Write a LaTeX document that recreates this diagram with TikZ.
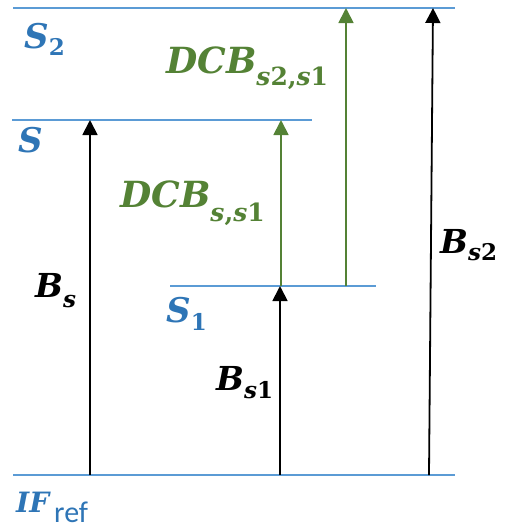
\documentclass[tikz,border=0pt]{standalone}
\usepackage{fontspec}
\setmainfont{DejaVu Serif}
\newfontfamily\reffont{Carlito}
\usetikzlibrary{arrows.meta}
\definecolor{lineblue}{HTML}{5B9BD5}
\definecolor{txtblue}{HTML}{2E75B6}
\definecolor{dgreen}{HTML}{548235}
\newcommand{\mf}[1]{\fontsize{#1}{#1}\selectfont\bfseries\itshape}
\newcommand{\sbs}[3]{\raisebox{-#1pt}{\fontsize{#2}{#2}\selectfont\bfseries\upshape #3}}
\newcommand{\si}{\textit{s}}
\tikzset{
  level/.style={lineblue, line width=1.8pt},
  darr/.style={line width=1.8pt, -{Triangle[width=15pt,length=15pt]}},
  lbl/.style={inner sep=0pt, anchor=base west},
}
\begin{document}
\begin{tikzpicture}[x=1pt,y=-1pt]
\useasboundingbox (0,0) rectangle (506,531);
% levels
\coordinate (s2l) at (13,8);   \coordinate (s2r) at (455,8);
\coordinate (sl) at (12,120);  \coordinate (sr) at (312,120);
\coordinate (s1l) at (170,286); \coordinate (s1r) at (376,286);
\coordinate (ifl) at (13,475); \coordinate (ifr) at (455,475);
\draw[level] (s2l) -- (s2r);
\draw[level] (sl) -- (sr);
\draw[level] (s1l) -- (s1r);
\draw[level] (ifl) -- (ifr);
% arrow endpoints
\coordinate (a1b) at (90,475);  \coordinate (a1t) at (90,120);
\coordinate (a2b) at (280,475); \coordinate (a2t) at (280,286);
\coordinate (a3b) at (429,475); \coordinate (a3t) at (433,8);
\coordinate (g1b) at (281,286); \coordinate (g1t) at (281,120);
\coordinate (g2b) at (346,286); \coordinate (g2t) at (346,8);
\draw[darr, black] (a1b) -- (a1t);
\draw[darr, black] (a2b) -- (a2t);
\draw[darr, black] (a3b) -- (a3t);
\draw[darr, dgreen] (g1b) -- (g1t);
\draw[darr, dgreen] (g2b) -- (g2t);
% labels
\node[lbl, txtblue] (lS2) at (24,48) {\mf{34}S\sbs{7}{23}{2}};
\node[lbl, txtblue] (lS) at (18,152) {\mf{34}S};
\node[lbl, txtblue] (lS1) at (166,322) {\mf{34}S\sbs{8}{23}{1}};
\node[lbl, txtblue] (lIF) at (16,512) {\mf{28}IF\raisebox{-10pt}{\fontsize{30}{30}\selectfont\reffont\mdseries\upshape\,ref}};
\node[lbl, dgreen] (lD2) at (166,73) {\mf{36}DCB\sbs{12}{25}{\si2,\si1}};
\node[lbl, dgreen] (lD1) at (120,207) {\mf{36}DCB\sbs{14}{25}{\si,\si1}};
\node[lbl, black] (lBs) at (35,297) {\mf{33}B\sbs{10}{23}{\si}};
\node[lbl, black] (lBs1) at (216,390) {\mf{33}B\sbs{8}{23}{\si1}};
\node[lbl, black] (lBs2) at (440,253) {\mf{33}B\sbs{7}{23}{\si2}};
\end{tikzpicture}
\end{document}
